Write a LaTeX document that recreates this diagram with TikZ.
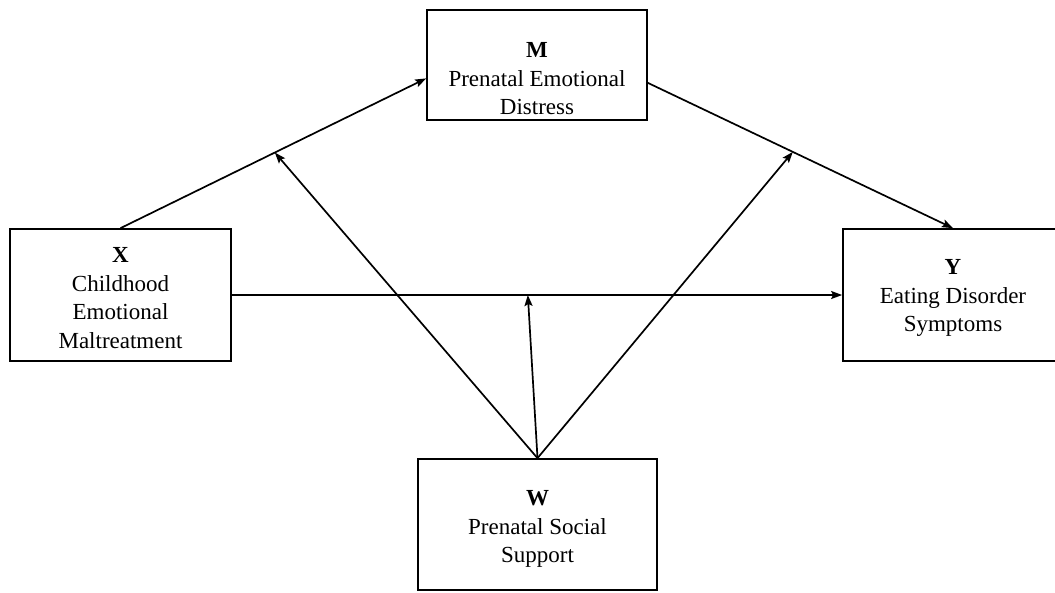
\documentclass[tikz,border=0pt]{standalone}
\usepackage{fontspec}
\setmainfont{Liberation Serif}
\usetikzlibrary{arrows.meta,calc}
\begin{document}
\begin{tikzpicture}[x=1pt,y=-1pt,
  box/.style={draw,line width=1.7pt,inner sep=0pt},
  lbl/.style={align=center,inner sep=0pt,font=\fontsize{23}{28.5}\selectfont},
  arr/.style={line width=1.7pt,-{Stealth[length=11pt,width=8pt,inset=2pt]}},
  ln/.style={line width=1.7pt}]
\useasboundingbox (0,0) rectangle (1055,592);
% boxes
\node[box,minimum width=220pt,minimum height=110pt] (M) at (537,65) {};
\node[box,minimum width=221pt,minimum height=132pt] (X) at (120.5,295) {};
\node[box,minimum width=220pt,minimum height=132pt] (Y) at (953,295) {};
\node[box,minimum width=239pt,minimum height=131pt] (W) at (537.5,524.5) {};
% labels
\node[lbl] (Mt) at (537,79) {\textbf{M}\\Prenatal Emotional\\Distress};
\node[lbl] (Xt) at (120.5,298) {\textbf{X}\\Childhood\\Emotional\\Maltreatment};
\node[lbl] (Yt) at (953,298) {\textbf{Y}\\Eating Disorder\\Symptoms};
\node[lbl] (Wt) at (537.5,529) {\textbf{W}\\Prenatal Social\\Support};
% anchor points
\coordinate (Min) at ($(M.north west)!0.62!(M.south west)$);
\coordinate (Mout) at ($(M.north east)!0.66!(M.south east)$);
\coordinate (XM) at ($(X.north)!0.505!(Min)$);
\coordinate (MY) at ($(Mout)!0.475!(Y.north)$);
\coordinate (XY) at ($(X.east)!0.485!(Y.west)$);
% paths
\draw[arr] (X.north) -- (Min);
\draw[arr] (Mout) -- (Y.north);
\draw[arr] (X.east) -- (Y.west);
\draw[arr] (W.north) -- (XM);
\draw[arr] (W.north) -- (MY);
\draw[arr] (W.north) -- (XY);
\end{tikzpicture}
\end{document}
